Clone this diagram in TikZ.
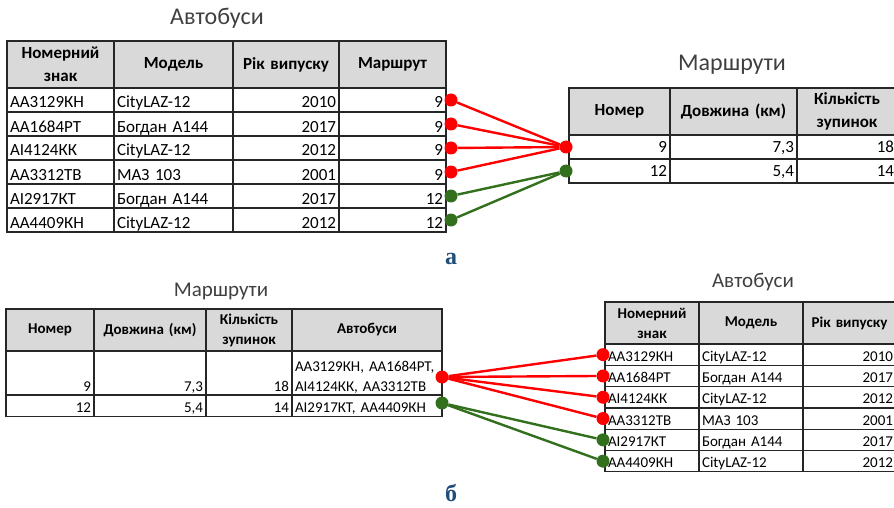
\documentclass[tikz,border=0pt]{standalone}
\usepackage{fontspec}
\setmainfont{Carlito}
\newfontfamily\labelfont{Liberation Serif}

\definecolor{hdrgray}{HTML}{D9D9D9}
\definecolor{tblline}{HTML}{262626}
\definecolor{titlegray}{HTML}{404040}
\definecolor{linkred}{HTML}{FF0000}
\definecolor{linkgreen}{HTML}{33701E}
\definecolor{labelblue}{HTML}{1F4E79}

\tikzset{
  cellbase/.style={draw=tblline, line width=1.2pt, inner xsep=3pt, inner ysep=0pt, outer sep=0pt, anchor=north west},
  hdrbig/.style={cellbase, fill=hdrgray, align=center, font=\fontsize{17}{23}\selectfont\bfseries},
  hdrsmall/.style={cellbase, fill=hdrgray, align=center, font=\fontsize{15}{20}\selectfont\bfseries},
  cellbig/.style={cellbase, font=\fontsize{17}{20}\selectfont, text height=20pt, text depth=4pt, minimum height=24pt},
  cellsmall/.style={cellbase, font=\fontsize{15}{20}\selectfont, text height=17.3pt, text depth=4pt, minimum height=21.3pt},
  titlebig/.style={font=\fontsize{24}{28}\selectfont, text=titlegray},
  titlesmall/.style={font=\fontsize{21}{25}\selectfont, text=titlegray},
  reddot/.style={circle, fill=linkred, inner sep=0pt, minimum size=13pt},
  greendot/.style={circle, fill=linkgreen, inner sep=0pt, minimum size=13pt},
  redlink/.style={draw=linkred, line width=2.4pt},
  greenlink/.style={draw=linkgreen, line width=2.4pt},
  sublabel/.style={font=\labelfont\bfseries\fontsize{24}{28}\selectfont, text=labelblue}
}

\begin{document}
\begin{tikzpicture}[x=1pt, y=-1pt]
    \useasboundingbox (0,0) rectangle (894,508);
    \clip (0,0) rectangle (894,508);

    % Таблиця "Автобуси" (а)
    \node[titlebig] (busA-title) at (217,18) {Автобуси};
    \foreach \x/\w/\txt [count=\c, evaluate=\w as \tw using \w-6] in {7/107/{Номерний\\знак}, 114/119/Модель, 233/106/{Рік випуску}, 339/107/Маршрут}
      \node[hdrbig, text width=\tw pt, minimum height=47pt] (busA-h\c) at (\x,41) {\txt};
    \foreach \busno/\mdl/\yr/\rt/\dotst [count=\r] in {АА3129КН/CityLAZ-12/2010/9/reddot, АА1684РТ/Богдан А144/2017/9/reddot, АІ4124КК/CityLAZ-12/2012/9/reddot, АА3312ТВ/МАЗ 103/2001/9/reddot, АІ2917КТ/Богдан А144/2017/12/greendot, АА4409КН/CityLAZ-12/2012/12/greendot}
    {
      \pgfmathsetmacro\yy{88+24*(\r-1)}
      \node[cellbig, text width=101pt] (busA-\r-1) at (7,\yy) {\busno};
      \node[cellbig, text width=113pt] (busA-\r-2) at (114,\yy) {\mdl};
      \node[cellbig, text width=100pt, align=right] (busA-\r-3) at (233,\yy) {\yr};
      \node[cellbig, text width=101pt, align=right] (busA-\r-4) at (339,\yy) {\rt};
      \node[\dotst] (busA-dot\r) at (451,\yy+12) {};
    }

    % Таблиця "Маршрути" (а)
    \node[titlebig] (routeA-title) at (732,65) {Маршрути};
    \foreach \x/\w/\txt [count=\c, evaluate=\w as \tw using \w-6] in {569/101/Номер, 670/127/{Довжина (км)}, 797/100/{Кількість\\зупинок}}
      \node[hdrbig, text width=\tw pt, minimum height=47pt] (routeA-h\c) at (\x,88) {\txt};
    \foreach \rt/\len/\stops [count=\r] in {9/{7,3}/18, 12/{5,4}/14}
    {
      \pgfmathsetmacro\yy{135+24*(\r-1)}
      \node[cellbig, text height=17.3pt, text depth=6.7pt, text width=95pt, align=right] (routeA-\r-1) at (569,\yy) {\rt};
      \node[cellbig, text height=17.3pt, text depth=6.7pt, text width=121pt, align=right] (routeA-\r-2) at (670,\yy) {\len};
      \node[cellbig, text height=17.3pt, text depth=6.7pt, text width=94pt, align=right] (routeA-\r-3) at (797,\yy) {\stops};
    }
    \node[reddot] (routeA-dot9) at (566,147) {};
    \node[greendot] (routeA-dot12) at (566,171) {};

    % Зв'язки (а)
    \foreach \r in {1,...,4}
      \draw[redlink] (busA-dot\r) -- (routeA-dot9);
    \foreach \r in {5,6}
      \draw[greenlink] (busA-dot\r) -- (routeA-dot12);

    \node[sublabel] (label-a) at (451,259) {а};

    % Таблиця "Маршрути" (б)
    \node[titlesmall] (routeB-title) at (221,291) {Маршрути};
    \foreach \x/\w/\txt [count=\c, evaluate=\w as \tw using \w-6] in {6/88/Номер, 94/112/{Довжина (км)}, 206/86/{Кількість\\зупинок}, 292/150/Автобуси}
      \node[hdrsmall, text width=\tw pt, minimum height=42pt] (routeB-h\c) at (\x,309) {\txt};
    \node[cellsmall, text height=40pt, text depth=3.5pt, minimum height=44pt, text width=82pt, align=right] (routeB-1-1) at (6,351) {9};
    \node[cellsmall, text height=40pt, text depth=3.5pt, minimum height=44pt, text width=106pt, align=right] (routeB-1-2) at (94,351) {7,3};
    \node[cellsmall, text height=40pt, text depth=3.5pt, minimum height=44pt, text width=80pt, align=right] (routeB-1-3) at (206,351) {18};
    \node[cellsmall, text height=20pt, text depth=23.5pt, minimum height=44pt, text width=144pt, align=left] (routeB-1-4) at (292,351) {АА3129КН, АА1684РТ,\\АІ4124КК, АА3312ТВ};
    \node[cellsmall, text width=82pt, align=right] (routeB-2-1) at (6,395) {12};
    \node[cellsmall, text width=106pt, align=right] (routeB-2-2) at (94,395) {5,4};
    \node[cellsmall, text width=80pt, align=right] (routeB-2-3) at (206,395) {14};
    \node[cellsmall, text width=144pt, align=left] (routeB-2-4) at (292,395) {АІ2917КТ, АА4409КН};
    \node[reddot] (routeB-dot9) at (442,377) {};
    \node[greendot] (routeB-dot12) at (442,403) {};

    % Таблиця "Автобуси" (б)
    \node[titlesmall] (busB-title) at (753,282) {Автобуси};
    \foreach \x/\w/\txt [count=\c, evaluate=\w as \tw using \w-6] in {605/94/{Номерний\\знак}, 699/104/Модель, 803/93/{Рік випуску}}
      \node[hdrsmall, text width=\tw pt, minimum height=42pt] (busB-h\c) at (\x,302) {\txt};
    \foreach \busno/\mdl/\yr/\dotst [count=\r] in {АА3129КН/CityLAZ-12/2010/reddot, АА1684РТ/Богдан А144/2017/reddot, АІ4124КК/CityLAZ-12/2012/reddot, АА3312ТВ/МАЗ 103/2001/reddot, АІ2917КТ/Богдан А144/2017/greendot, АА4409КН/CityLAZ-12/2012/greendot}
    {
      \pgfmathsetmacro\yy{344+21.3*(\r-1)}
      \node[cellsmall, text width=88pt] (busB-\r-1) at (605,\yy) {\busno};
      \node[cellsmall, text width=98pt] (busB-\r-2) at (699,\yy) {\mdl};
      \node[cellsmall, text width=87pt, align=right] (busB-\r-3) at (803,\yy) {\yr};
      \node[\dotst] (busB-dot\r) at (603,\yy+10.65) {};
    }

    % Зв'язки (б)
    \foreach \r in {1,...,4}
      \draw[redlink] (routeB-dot9) -- (busB-dot\r);
    \foreach \r in {5,6}
      \draw[greenlink] (routeB-dot12) -- (busB-dot\r);

    \node[sublabel] (label-b) at (451,493) {б};
\end{tikzpicture}
\end{document}
